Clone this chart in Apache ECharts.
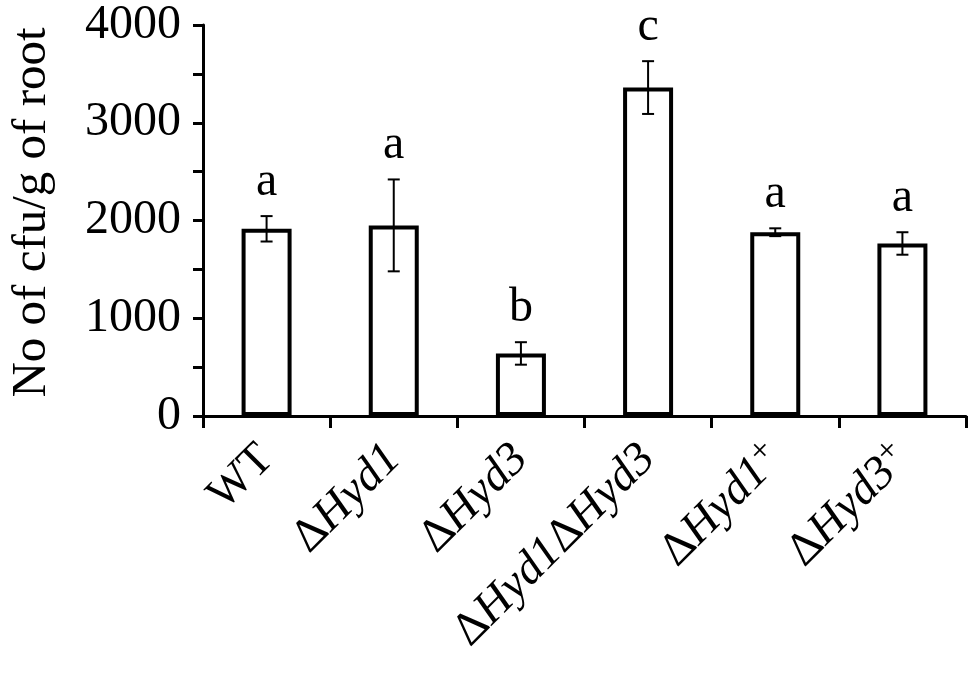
<!DOCTYPE html>
<html>
<head>
<meta charset="utf-8">
<script src="https://cdn.jsdelivr.net/npm/echarts@6/dist/echarts.min.js"></script>
<style>
html,body{margin:0;padding:0;background:#fff;}
#chart{width:980px;height:675px;}
</style>
</head>
<body>
<div id="chart"></div>
<script>
const categories = ['WT', 'ΔHyd1', 'ΔHyd3', 'ΔHyd1ΔHyd3', 'ΔHyd1+', 'ΔHyd3+'];
const means = [1915, 1950, 640, 3360, 1880, 1765];
const errors = [130, 470, 115, 270, 40, 115];
const letters = ['a', 'a', 'b', 'c', 'a', 'a'];
const yTicks = [0, 1000, 2000, 3000, 4000];

const FONT = '"Liberation Serif", "Times New Roman", serif';

function richLabel(s) {
  return s.replace(/Δ/g, '{d|Δ}')
          .replace(/(Hyd\d)/g, '{i|$1}')
          .replace(/\+/g, '{s|+}');
}

const chart = echarts.init(document.getElementById('chart'), null, {renderer: 'canvas'});
chart.setOption({
  animation: false,
  backgroundColor: '#fff',
  grid: {left: 198, right: 14, top: 25, bottom: 259, containLabel: false},
  xAxis: {
    type: 'category',
    data: categories,
    axisLine: {lineStyle: {color: '#000', width: 3}},
    axisTick: {show: true, length: 12, lineStyle: {color: '#000', width: 3}},
    axisLabel: {
      rotate: 45,
      margin: 36,
      interval: 0,
      color: '#000',
      fontFamily: FONT,
      fontSize: 47,
      formatter: v => (v.indexOf('Δ') >= 0 || v.indexOf('Hyd') >= 0) ? richLabel(v) : '{r|' + v + '}',
      rich: {
        r: {fontFamily: FONT, fontSize: 46, color: '#000'},
        d: {fontFamily: FONT, fontSize: 47, color: '#000'},
        i: {fontFamily: FONT, fontSize: 47, fontStyle: 'italic', color: '#000'},
        s: {fontFamily: FONT, fontSize: 34, color: '#000', padding: [0, 0, 20, 0]}
      }
    },
    splitLine: {show: false}
  },
  yAxis: {
    type: 'value',
    min: yTicks[0],
    max: yTicks[yTicks.length - 1],
    interval: 1000,
    name: 'No of cfu/g of root',
    nameLocation: 'middle',
    nameGap: 146,
    nameRotate: 90,
    nameTextStyle: {fontFamily: FONT, fontSize: 49, color: '#000', padding: [0, 0, 0, 16]},
    axisLine: {show: true, lineStyle: {color: '#000', width: 3}},
    axisTick: {show: true, length: 10, lineStyle: {color: '#000', width: 3}},
    minorTick: {show: true, splitNumber: 2, length: 10, lineStyle: {color: '#000', width: 3}},
    axisLabel: {margin: 22, color: '#000', fontFamily: FONT, fontSize: 48, formatter: v => String(v)},
    splitLine: {show: false}
  },
  series: [
    {
      type: 'bar',
      data: means,
      barWidth: 50,
      itemStyle: {color: '#fff', borderColor: '#000', borderWidth: 4},
      z: 2
    },
    {
      type: 'custom',
      z: 5,
      data: categories.map((c, i) => [i, means[i], errors[i]]),
      renderItem: function (params, api) {
        const x = api.value(0), m = api.value(1), e = api.value(2);
        const hi = api.coord([x, m + e]);
        const lo = api.coord([x, m - e]);
        const w = 6;
        const st = {stroke: '#000', lineWidth: 2};
        return {
          type: 'group',
          children: [
            {type: 'line', shape: {x1: hi[0], y1: hi[1], x2: lo[0], y2: lo[1]}, style: st},
            {type: 'line', shape: {x1: hi[0] - w, y1: hi[1], x2: hi[0] + w, y2: hi[1]}, style: st},
            {type: 'line', shape: {x1: lo[0] - w, y1: lo[1], x2: lo[0] + w, y2: lo[1]}, style: st},
            {type: 'text', x: hi[0], y: hi[1] - 10,
              style: {text: letters[params.dataIndex], fill: '#000', font: '48px ' + FONT,
                      textAlign: 'center', textVerticalAlign: 'bottom'}}
          ]
        };
      }
    }
  ]
});
</script>
</body>
</html>
